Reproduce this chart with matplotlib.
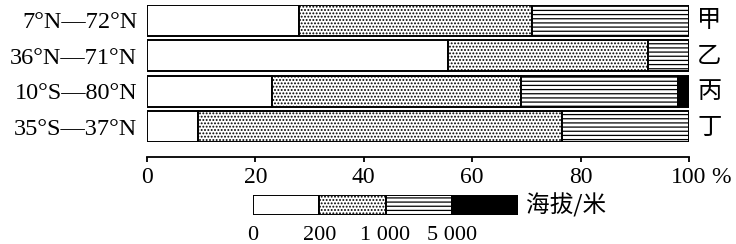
import matplotlib
matplotlib.use("Agg")
import matplotlib.pyplot as plt

# ---- data ----
regions = ['甲', '乙', '丙', '丁']
lat_labels = ['7°N—72°N', '36°N—71°N', '10°S—80°N', '35°S—37°N']
seg_0_200 = [28, 55.5, 23, 9.5]
seg_200_1000 = [43, 37, 46, 67]
seg_1000_5000 = [29, 7.5, 29, 23.5]
seg_above_5000 = [0, 0, 2, 0]
x_ticks = [0, 20, 40, 60, 80, 100]
legend_labels = ['0', '200', '1 000', '5 000']
legend_title = '海拔/米'

series = [seg_0_200, seg_200_1000, seg_1000_5000, seg_above_5000]
styles = [dict(color='white', hatch=None),
          dict(color='white', hatch='.....'),
          dict(color='white', hatch='----'),
          dict(color='black', hatch=None)]

plt.rcParams['hatch.linewidth'] = 0.9
serif = ['Liberation Serif', 'DejaVu Serif']
cjk = ['Noto Sans CJK SC', 'DejaVu Sans']

fig = plt.figure(figsize=(7.36, 2.44), dpi=100)
ax = fig.add_axes([147/736, 1-142/244, 542/736, 137/244])

ypos = list(range(len(regions)))
left = [0]*len(regions)
for vals, st in zip(series, styles):
    ax.barh(ypos, vals, left=left, height=0.873, facecolor=st['color'],
            hatch=st['hatch'], edgecolor='black', linewidth=1.4)
    left = [l + v for l, v in zip(left, vals)]

ax.set_xlim(0, 100)
ax.set_ylim(3.4365, -0.4365)
for s in ['top', 'left', 'right']:
    ax.spines[s].set_visible(False)
ax.spines['bottom'].set_position(('outward', 10.8))
ax.spines['bottom'].set_linewidth(1.3)
ax.set_xticks(x_ticks)
ax.set_xticklabels([str(t) for t in x_ticks], fontfamily=serif, fontsize=17)
ax.tick_params(axis='x', direction='out', length=3.6, width=1.3, pad=3.5)
ax.annotate('%', xy=(100, 0), xycoords=('data', 'axes fraction'),
            xytext=(23, -(10.8 + 3.6 + 3.5)), textcoords='offset points',
            fontfamily=serif, fontsize=17, ha='center', va='top',
            annotation_clip=False)

ax.set_yticks(ypos)
ax.set_yticklabels(lat_labels, fontfamily=serif, fontsize=17.5)
ax.tick_params(axis='y', length=0, pad=7)

for y, r in zip(ypos, regions):
    ax.text(101.5, y, r, fontfamily=cjk, fontsize=17.5, va='center', ha='left',
            clip_on=False)

# ---- legend ----
lax = fig.add_axes([253/736, 1-215/244, 265/736, 20/244])
lx = 0
for st in styles:
    lax.barh([0], [1], left=[lx], height=1, facecolor=st['color'],
             hatch=st['hatch'], edgecolor='black', linewidth=1.4)
    lx += 1
lax.set_xlim(0, 4)
lax.set_ylim(-0.5, 0.5)
lax.axis('off')
for i, lab in enumerate(legend_labels):
    lax.text(i, -1.55, lab, fontfamily=serif, fontsize=16, ha='center', va='center')
lax.text(4.12, 0, legend_title, fontfamily=cjk, fontsize=17, ha='left', va='center')

fig.savefig('out.png', dpi=100)
